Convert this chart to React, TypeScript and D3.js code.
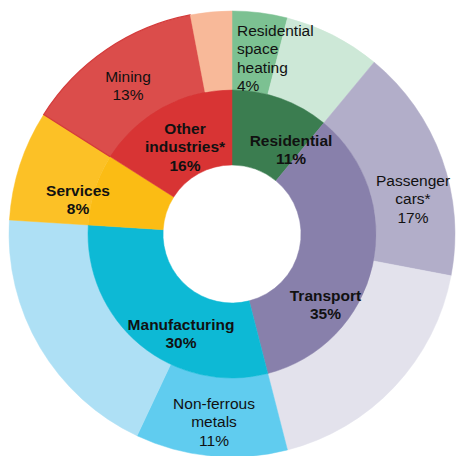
import { useMemo } from "react";
import * as d3 from "d3";

// inner ring: end-use sectors
const sectorNames = ["Residential", "Transport", "Manufacturing", "Services", "Other\nindustries*"];
const sectorShares = [11, 35, 30, 8, 16];
const sectorColors = ["#3b7d50", "#8880ab", "#0db9d5", "#fbbc14", "#d83434"];

// outer ring: sub-sectors (empty name = remainder, not labelled)
const subNames = [
  "Residential\nspace\nheating",
  "",
  "Passenger\ncars*",
  "",
  "Non-ferrous\nmetals",
  "",
  "",
  "Mining",
  "",
];
const subShares = [4, 7, 17, 18, 11, 19, 8, 13, 3];
const subColors = [
  "#7cc192",
  "#cde8d7",
  "#b2aec9",
  "#e3e2ec",
  "#60ccef",
  "#aee0f5",
  "#fcc126",
  "#db4d4b",
  "#f8b999",
];

// label placement, offset from the centre (first baseline)
const sectorLabelSpots = [
  [59, -88.5],
  [93.5, 66.5],
  [-51, 95.5],
  [-154, -38.5],
  [-47, -100.5],
];
const subLabelSpots = [[5, -198.5, "start"], null, [181, -48.5], null, [-18, 174.5], null, null, [-104, -152.5], null];

const W = 457;
const H = 456;
const cx = 232;
const cy = 234;
const rHole = 69;
const rMid = 144;
const rOut = 223;
const lineGap = 18.5;

function Label({ spot, lines, bold }) {
  const [dx, dy, anchor] = spot;
  return (
    <text
      x={cx + dx}
      y={cy + dy}
      textAnchor={anchor || "middle"}
      fontFamily="'Liberation Sans', Arial, sans-serif"
      fontSize={15.5}
      fontWeight={bold ? "bold" : "normal"}
      fill="#111"
    >
      {lines.map((l, i) => (
        <tspan key={i} x={cx + dx} dy={i === 0 ? 0 : lineGap}>
          {l}
        </tspan>
      ))}
    </text>
  );
}

export default function App() {
  const pie = useMemo(() => d3.pie().sort(null).value((d) => d).startAngle(0).endAngle(2 * Math.PI), []);
  const innerArcs = pie(sectorShares);
  const outerArcs = pie(subShares);
  const innerArc = d3.arc().innerRadius(rHole).outerRadius(rMid);
  const outerArc = d3.arc().innerRadius(rMid).outerRadius(rOut);

  return (
    <div style={{ position: "absolute", left: 0, top: 0 }}>
      <svg width={W} height={H} style={{ display: "block" }}>
        <rect width={W} height={H} fill="#fff" />
        <g transform={`translate(${cx},${cy})`}>
          {outerArcs.map((a, i) => (
            <path
              key={"o" + i}
              d={outerArc(a)}
              fill={subColors[i]}
              stroke={i === 7 ? "#d43b3b" : subColors[i]}
              strokeWidth={i === 7 ? 1.2 : 0.5}
            />
          ))}
          {innerArcs.map((a, i) => (
            <path key={"i" + i} d={innerArc(a)} fill={sectorColors[i]} stroke={sectorColors[i]} strokeWidth={0.5} />
          ))}
        </g>
        {sectorNames.map((n, i) => (
          <Label key={"sl" + i} spot={sectorLabelSpots[i]} lines={[...n.split("\n"), `${sectorShares[i]}%`]} bold />
        ))}
        {subNames.map((n, i) =>
          n && subLabelSpots[i] ? (
            <Label key={"ol" + i} spot={subLabelSpots[i]} lines={[...n.split("\n"), `${subShares[i]}%`]} />
          ) : null
        )}
      </svg>
    </div>
  );
}
